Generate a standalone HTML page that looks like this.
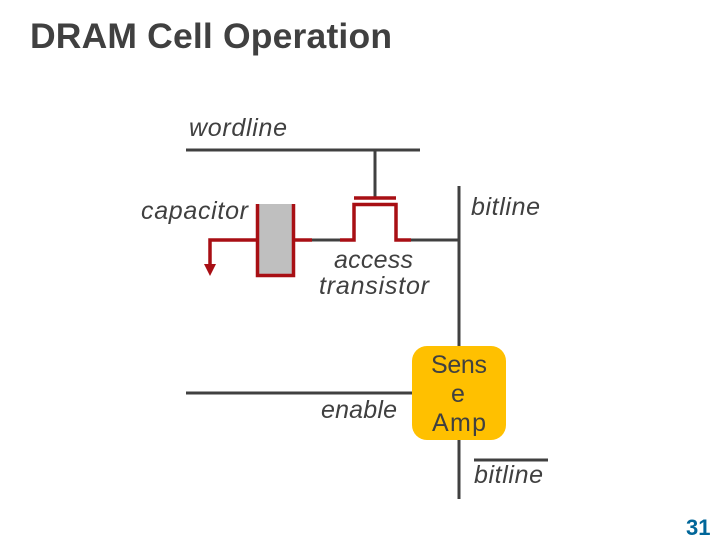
<!DOCTYPE html>
<html>
<head>
<meta charset="utf-8">
<style>
html,body{margin:0;padding:0;background:#fff;}
svg{display:block;}
text{font-family:"Liberation Sans",sans-serif;fill:#404040;}
</style>
</head>
<body>
<svg width="720" height="540" viewBox="0 0 720 540" xmlns="http://www.w3.org/2000/svg">
<rect width="720" height="540" fill="#fff"/>
<text x="30" y="48" font-size="35.500" font-weight="bold" textLength="362" lengthAdjust="spacing">DRAM Cell Operation</text>

<!-- dark wires -->
<g stroke="#404040" stroke-width="3" fill="none">
<line x1="186" y1="150" x2="420" y2="150"/>
<line x1="375" y1="150" x2="375" y2="198"/>
<line x1="459" y1="186" x2="459" y2="348"/>
<line x1="459" y1="438" x2="459" y2="499"/>
<line x1="186" y1="393" x2="414" y2="393"/>
<line x1="474" y1="460" x2="548" y2="460"/>
<line x1="312" y1="240" x2="340" y2="240"/>
<line x1="410" y1="240" x2="459" y2="240"/>
</g>

<!-- capacitor -->
<rect x="258" y="204" width="35" height="71" fill="#bfbfbf"/>
<g stroke="#a80f14" stroke-width="3.500" fill="none">
<path d="M257.500 204V275.500H293.500V204"/>
<path d="M293.500 240H312"/>
<path d="M257 240H210V265"/>
<path d="M354 198H396"/>
<path d="M340 240H354V204.500H396V240H411"/>
</g>
<polygon points="204,264 216,264 210,276" fill="#a80f14"/>

<!-- sense amp -->
<rect x="412" y="346" width="94" height="94" rx="15" ry="15" fill="#ffc000"/>

<!-- labels -->
<g font-size="25" font-style="italic">
<text x="189" y="136" textLength="98" lengthAdjust="spacing">wordline</text>
<text x="141" y="219" textLength="107" lengthAdjust="spacing">capacitor</text>
<text x="471" y="215" textLength="69" lengthAdjust="spacing">bitline</text>
<text x="334" y="268" textLength="79" lengthAdjust="spacing">access</text>
<text x="319" y="294" textLength="110" lengthAdjust="spacing">transistor</text>
<text x="321" y="418" textLength="76" lengthAdjust="spacing">enable</text>
<text x="474" y="483" textLength="69" lengthAdjust="spacing">bitline</text>
</g>
<g font-size="25" text-anchor="middle">
<text x="459" y="373" textLength="56" lengthAdjust="spacing">Sens</text>
<text x="458" y="402">e</text>
<text x="459" y="431" textLength="54" lengthAdjust="spacing">Amp</text>
</g>
<text x="686" y="535" font-size="22" font-weight="bold" style="fill:#006699">31</text>
</svg>
</body>
</html>
